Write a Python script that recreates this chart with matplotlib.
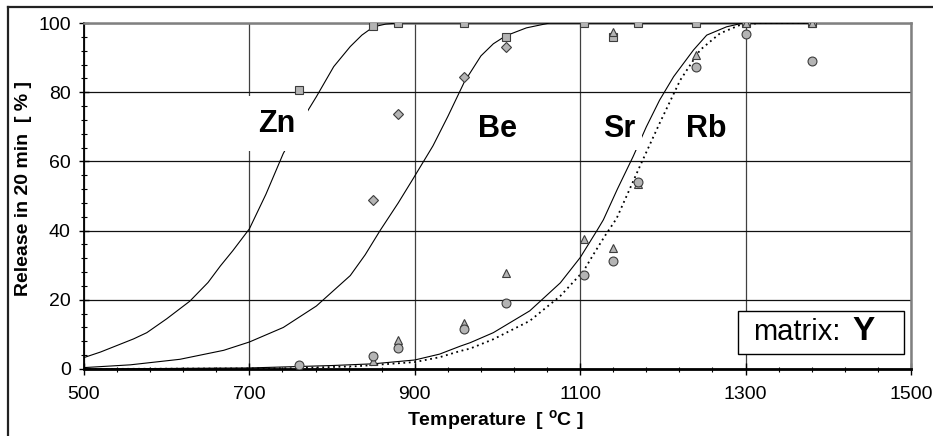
import matplotlib
matplotlib.use('Agg')
import matplotlib.pyplot as plt
from matplotlib.lines import Line2D
from matplotlib.patches import Rectangle
from matplotlib.ticker import MultipleLocator

plt.rcParams['font.family'] = ['Liberation Sans', 'DejaVu Sans']
plt.rcParams['mathtext.fontset'] = 'custom'
plt.rcParams['mathtext.rm'] = 'Liberation Sans'
plt.rcParams['mathtext.bf'] = 'Liberation Sans:bold'

# measured points
t_pts = [760, 850, 880, 960, 1010, 1105, 1140, 1170, 1240, 1300, 1380]
zn_pts = [80.5, 99, 100, 100, 96, 100, 96, 100, 100, 100, 100]
rb_pts = [1.2, 3.7, 6.0, 11.5, 19.0, 27.2, 31.2, 54.1, 87.2, 96.9, 89.1]

be_t = [850, 880, 960, 1010]
be_pts = [48.8, 73.8, 84.4, 93.2]

sr_t = [760, 850, 880, 960, 1010, 1105, 1140, 1140, 1170, 1240, 1300, 1380]
sr_pts = [0, 2.3, 8.4, 13.3, 27.8, 37.5, 35.0, 97.5, 53.5, 90.8, 100, 100]

# fitted curves
zn_ct = [500, 520, 540, 560, 576, 600, 628, 650, 665, 680, 700, 720, 741, 760, 781, 802, 822,
         836, 850, 865, 880, 1380]
zn_cv = [3.3, 4.9, 6.8, 8.7, 10.5, 14.5, 19.6, 25.0, 29.8, 34.2, 40.5, 50.5, 62.3, 70.5, 78.7,
         87.4, 93.2, 96.5, 98.9, 99.7, 100, 100]

be_ct = [500, 556, 616, 669, 700, 741, 781, 822, 840, 858, 880, 898, 922, 940, 960, 980, 995,
         1010, 1035, 1063, 1380]
be_cv = [0.4, 1.2, 2.8, 5.4, 7.8, 12.0, 18.2, 27.0, 33.0, 40.0, 48.0, 55.0, 64.5, 73.0, 83.0,
         90.5, 94.0, 96.3, 98.6, 100, 100]

sr_ct = [500, 700, 800, 850, 900, 930, 955, 967, 995, 1039, 1076, 1100, 1120, 1128, 1145, 1164,
         1180, 1196, 1213, 1237, 1253, 1277, 1297, 1380]
sr_cv = [0, 0.3, 1.0, 1.5, 2.6, 4.3, 6.6, 7.6, 10.5, 16.8, 24.9, 32.2, 39.9, 43.1, 52.0, 61.4,
         70.0, 77.7, 84.5, 92.2, 96.5, 98.9, 100, 100]

rb_ct = [500, 750, 830, 900, 930, 955, 967, 995, 1039, 1076, 1104, 1116, 1130, 1144, 1158, 1172,
         1196, 1221, 1245, 1269, 1293, 1317, 1380]
rb_cv = [0, 0.2, 0.8, 2.0, 3.4, 5.2, 5.9, 8.6, 13.9, 21.1, 28.3, 33.1, 38.5, 43.5, 51.0, 58.5,
         71.0, 83.5, 92.2, 97.0, 99.4, 100, 100]

labels = ['Zn', 'Be', 'Sr', 'Rb']
label_x = [733, 1000, 1147.5, 1253]
label_y = [68.6, 67.1, 67.1, 67.1]

fig = plt.figure(figsize=(9.33, 4.36), dpi=100)
ax = fig.add_axes([0.090, 0.1537, 0.8864, 0.7935])

fill = '#b4b4b4'
edge = '#3c3c3c'

ax.plot(zn_ct, zn_cv, color='black', lw=0.8, zorder=3)
ax.plot(be_ct, be_cv, color='black', lw=0.8, zorder=3)
ax.plot(sr_ct, sr_cv, color='black', lw=0.8, zorder=3)
ax.plot(rb_ct, rb_cv, color='black', lw=1.3, ls=(0, (1, 2)), zorder=3)

ax.plot(be_t, be_pts, 'D', ms=4.6, mfc=fill, mec=edge, mew=0.8, zorder=4)
ax.plot(t_pts, zn_pts, 's', ms=5.4, mfc=fill, mec=edge, mew=0.8, zorder=4)
ax.plot(sr_t, sr_pts, '^', ms=5.6, mfc=fill, mec=edge, mew=0.8, zorder=5)
ax.plot(t_pts, rb_pts, 'o', ms=6.4, mfc=fill, mec=edge, mew=0.8, zorder=6)

pads = [0.4, 0.2, 0.2, 0.2]
for lab, x, y, p in zip(labels, label_x, label_y, pads):
    ax.text(x, y, lab, fontsize=22, fontweight='bold', ha='center', va='baseline', zorder=7,
            bbox=dict(boxstyle='square,pad=%s' % p, fc='white', ec='none'))

ax.set_xlim(500, 1500)
ax.set_ylim(0, 100)
ax.xaxis.set_major_locator(MultipleLocator(200, offset=100))
ax.xaxis.set_minor_locator(MultipleLocator(40, offset=20))
ax.yaxis.set_major_locator(MultipleLocator(20))
ax.yaxis.set_minor_locator(MultipleLocator(4))

ax.grid(axis='y', which='major', color='#111111', lw=0.9)
ax.grid(axis='x', which='major', color='#404040', lw=0.9)
ax.set_axisbelow(True)

ax.tick_params(axis='x', which='major', direction='inout', length=9, width=1, labelsize=14, pad=8)
ax.tick_params(axis='x', which='minor', direction='inout', length=3.6, width=0.8)
ax.tick_params(axis='y', which='major', direction='inout', length=7, width=1, labelsize=14, pad=6)
ax.tick_params(axis='y', which='minor', direction='inout', length=5, width=0.8)
ax.tick_params(top=False, right=False, which='both')

ax.spines['bottom'].set_linewidth(2)
ax.spines['left'].set_linewidth(1.3)
for s in ['top', 'right']:
    ax.spines[s].set_color('#808080')
    ax.spines[s].set_linewidth(1.8)

ax.set_xlabel('Temperature  [ $^{\\mathbf{o}}$C ]', fontsize=14, fontweight='bold', va='center')
ax.xaxis.set_label_coords(0.497, -0.149)
ax.set_ylabel('Release in 20 min  [ % ]', fontsize=14, fontweight='bold', va='center')
ax.yaxis.set_label_coords(-0.073, 0.523)

ax.add_patch(Rectangle((0.7905, 0.0434), 0.201, 0.1242, transform=ax.transAxes,
                       fc='white', ec='black', lw=1, zorder=8))
ax.text(0.915, 0.107, 'matrix:', transform=ax.transAxes, fontsize=21, ha='right', va='center', zorder=9)
ax.text(0.929, 0.107, 'Y', transform=ax.transAxes, fontsize=24, fontweight='bold',
        ha='left', va='center', zorder=9)

# outer chart frame (cropped on right and bottom)
fig.add_artist(Line2D([8 / 933, 1], [1 - 7 / 436, 1 - 7 / 436], color='#222222', lw=1.6))
fig.add_artist(Line2D([8 / 933, 8 / 933], [0, 1 - 7 / 436], color='#222222', lw=1.6))

fig.savefig('out.png', dpi=100)
